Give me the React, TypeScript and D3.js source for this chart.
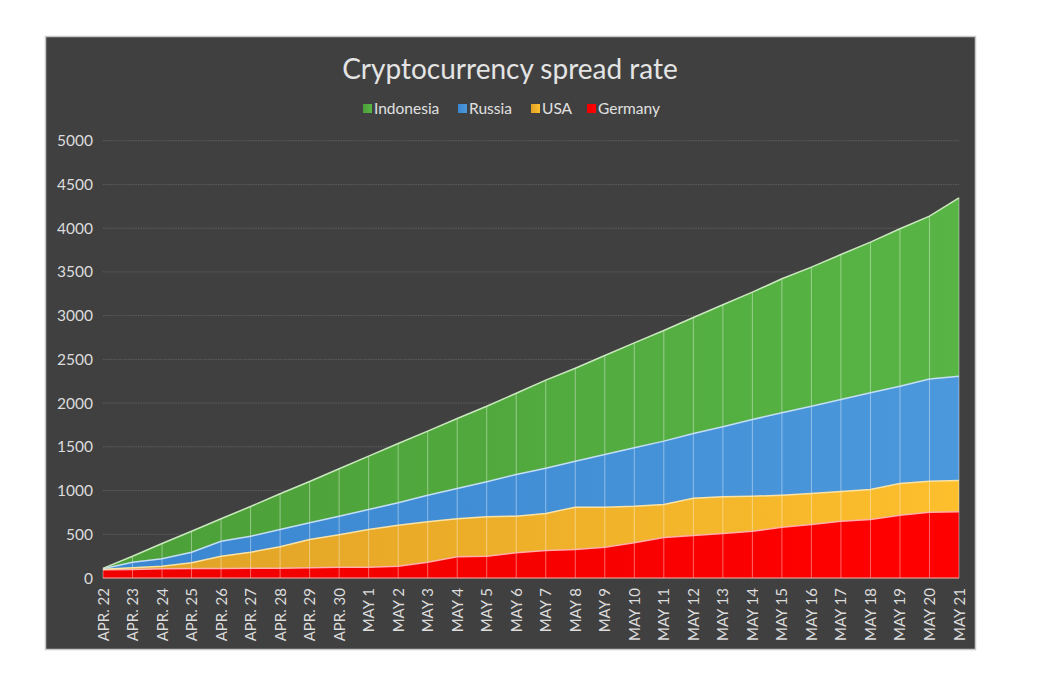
import React from "react";
import * as d3 from "d3";

const categories = [
  "APR. 22", "APR. 23", "APR. 24", "APR. 25", "APR. 26", "APR. 27", "APR. 28", "APR. 29", "APR. 30",
  "MAY 1", "MAY 2", "MAY 3", "MAY 4", "MAY 5", "MAY 6", "MAY 7", "MAY 8", "MAY 9", "MAY 10",
  "MAY 11", "MAY 12", "MAY 13", "MAY 14", "MAY 15", "MAY 16", "MAY 17", "MAY 18", "MAY 19", "MAY 20", "MAY 21",
];

const germany = [95, 97, 105, 109, 109, 112, 112, 117, 124, 124, 135, 181, 242, 249, 288, 314, 326, 352, 402, 463, 486, 509, 535, 581, 612, 650, 669, 718, 752, 757];
const usa = [5, 20, 30, 65, 140, 183, 245, 323, 370, 431, 469, 462, 435, 451, 419, 423, 484, 458, 419, 377, 426, 419, 400, 366, 354, 339, 343, 362, 355, 358];
const russia = [5, 64, 84, 121, 172, 183, 198, 191, 213, 228, 256, 304, 346, 400, 476, 519, 526, 602, 668, 725, 740, 801, 877, 942, 998, 1052, 1106, 1113, 1168, 1192];
const indonesia = [5, 68, 175, 240, 256, 340, 408, 472, 542, 610, 678, 732, 801, 864, 929, 1006, 1063, 1132, 1200, 1265, 1327, 1395, 1456, 1532, 1590, 1658, 1722, 1800, 1862, 2040];

const yTicks = [0, 500, 1000, 1500, 2000, 2500, 3000, 3500, 4000, 4500, 5000];

const seriesKeys = ["Germany", "USA", "Russia", "Indonesia"];
const legendOrder = ["Indonesia", "Russia", "USA", "Germany"];
const colors: Record<string, [string, string]> = {
  Indonesia: ["#4b9f37", "#58b545"],
  Russia: ["#3a86d1", "#4b98dc"],
  USA: ["#dfa126", "#fdbf2c"],
  Germany: ["#f00000", "#ff0000"],
};
const strokes: Record<string, string> = {
  Indonesia: "#c9e8bd",
  Russia: "#c4def5",
  USA: "#fbe3a6",
  Germany: "#ffb0a8",
};

const W = 1038;
const H = 678;
const FONT = "Lato, 'Open Sans', sans-serif";

export default function App() {
  const table = categories.map((c, i) => ({
    cat: c,
    Germany: germany[i],
    USA: usa[i],
    Russia: russia[i],
    Indonesia: indonesia[i],
  }));
  const stacked = d3.stack<any>().keys(seriesKeys)(table);

  const x = d3.scalePoint<string>().domain(categories).range([103, 959]);
  const y = d3.scaleLinear().domain([0, 5000]).range([578, 140.7]);

  const area = d3
    .area<any>()
    .x((d) => x(d.data.cat) as number)
    .y0((d) => y(d[0]))
    .y1((d) => y(d[1]));
  const topLine = d3
    .line<any>()
    .x((d) => x(d.data.cat) as number)
    .y((d) => y(d[1]));

  const top = stacked[stacked.length - 1];

  const legendItems = [
    { key: "Indonesia", x: 363 },
    { key: "Russia", x: 458 },
    { key: "USA", x: 531 },
    { key: "Germany", x: 587 },
  ];

  return (
    <svg
      width={W}
      height={H}
      style={{ position: "absolute", left: 0, top: 0, background: "#ffffff" }}
    >
      <defs>
        {legendOrder.map((k) => (
          <linearGradient key={k} id={`g-${k}`} x1="0" x2="1" y1="0" y2="0">
            <stop offset="0%" stopColor={colors[k][0]} />
            <stop offset="100%" stopColor={colors[k][1]} />
          </linearGradient>
        ))}
      </defs>
      <rect x={45.5} y={36.5} width={930} height={613} fill="#404040" stroke="#c8c8c8" strokeWidth={1.5} />

      <text
        x={510}
        y={79}
        textAnchor="middle"
        fill="#e4e4e4"
        fontFamily={FONT}
        fontSize={28}
      >
        Cryptocurrency spread rate
      </text>

      {legendItems.map((it) => (
        <g key={it.key}>
          <rect x={it.x} y={104} width={9} height={9} fill={`url(#g-${it.key})`} />
          <text x={it.x + 11} y={114} fill="#e0e0e0" fontFamily={FONT} fontSize={15.5}>
            {it.key}
          </text>
        </g>
      ))}

      {yTicks.map((t) => (
        <g key={t}>
          {t > 0 && (
            <line
              x1={103}
              x2={959}
              y1={y(t)}
              y2={y(t)}
              stroke="#5e5e5e"
              strokeWidth={1}
              strokeDasharray="1.5,1"
            />
          )}
          <text
            x={93}
            y={y(t) + 5.5}
            textAnchor="end"
            fill="#dcdcdc"
            fontFamily={FONT}
            fontSize={15.5}
          >
            {t}
          </text>
        </g>
      ))}

      {stacked.map((s) => (
        <path key={s.key} d={area(s) as string} fill={`url(#g-${s.key})`} />
      ))}

      {top.map((d: any, i: number) => (
        <line
          key={i}
          x1={x(d.data.cat) as number}
          x2={x(d.data.cat) as number}
          y1={y(0)}
          y2={y(d[1])}
          stroke="#ffffff"
          strokeOpacity={0.4}
          strokeWidth={1}
        />
      ))}

      {stacked.map((s) => (
        <path
          key={s.key + "-l"}
          d={topLine(s) as string}
          fill="none"
          stroke={strokes[s.key]}
          strokeWidth={1.5}
        />
      ))}

      <line x1={103} x2={959} y1={y(0)} y2={y(0)} stroke="#ffb0a8" strokeWidth={1} />

      {categories.map((c) => (
        <text
          key={c}
          transform={`translate(${(x(c) as number) + 5.5},588) rotate(-90)`}
          textAnchor="end"
          fill="#dcdcdc"
          fontFamily={FONT}
          fontSize={15}
        >
          {c}
        </text>
      ))}
    </svg>
  );
}
